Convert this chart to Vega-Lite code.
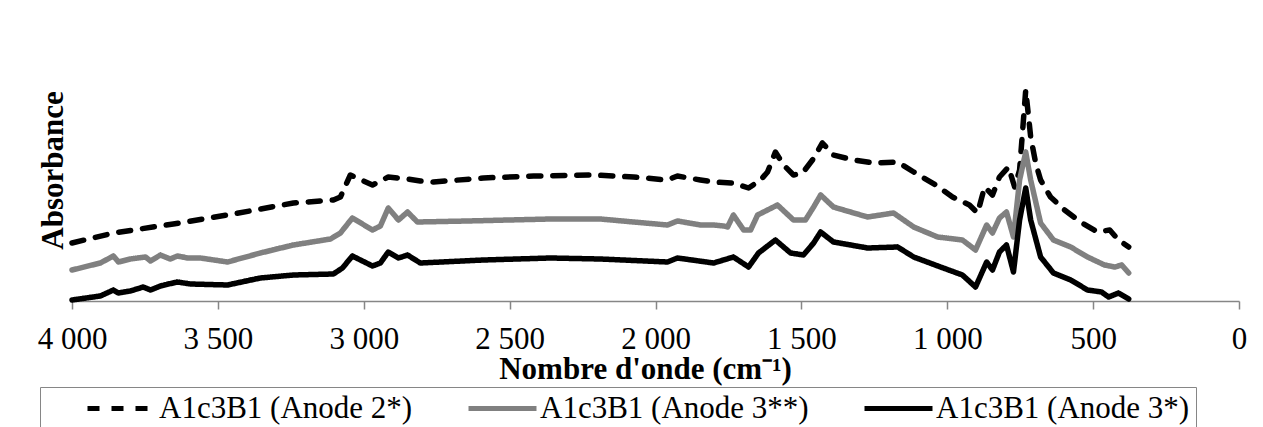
{
  "$schema": "https://vega.github.io/schema/vega-lite/v6.json",
  "autosize": {"type": "none"},
  "padding": {"left": 72, "top": 40, "right": 24, "bottom": 126},
  "width": 1167,
  "height": 261,
  "background": "white",
  "config": {
    "view": {"stroke": null},
    "font": "Liberation Serif"
  },
  "data": {
    "values": [
      {"wn": 4000, "a": 0.58, "s": "A1c3B1 (Anode 2*)"},
      {"wn": 3858, "a": 0.68, "s": "A1c3B1 (Anode 2*)"},
      {"wn": 3653, "a": 0.77, "s": "A1c3B1 (Anode 2*)"},
      {"wn": 3447, "a": 0.87, "s": "A1c3B1 (Anode 2*)"},
      {"wn": 3241, "a": 0.98, "s": "A1c3B1 (Anode 2*)"},
      {"wn": 3104, "a": 1.01, "s": "A1c3B1 (Anode 2*)"},
      {"wn": 3080, "a": 1.04, "s": "A1c3B1 (Anode 2*)"},
      {"wn": 3046, "a": 1.26, "s": "A1c3B1 (Anode 2*)"},
      {"wn": 2970, "a": 1.16, "s": "A1c3B1 (Anode 2*)"},
      {"wn": 2916, "a": 1.24, "s": "A1c3B1 (Anode 2*)"},
      {"wn": 2850, "a": 1.22, "s": "A1c3B1 (Anode 2*)"},
      {"wn": 2806, "a": 1.20, "s": "A1c3B1 (Anode 2*)"},
      {"wn": 2761, "a": 1.19, "s": "A1c3B1 (Anode 2*)"},
      {"wn": 2590, "a": 1.23, "s": "A1c3B1 (Anode 2*)"},
      {"wn": 2418, "a": 1.25, "s": "A1c3B1 (Anode 2*)"},
      {"wn": 2213, "a": 1.26, "s": "A1c3B1 (Anode 2*)"},
      {"wn": 2075, "a": 1.24, "s": "A1c3B1 (Anode 2*)"},
      {"wn": 1959, "a": 1.21, "s": "A1c3B1 (Anode 2*)"},
      {"wn": 1925, "a": 1.25, "s": "A1c3B1 (Anode 2*)"},
      {"wn": 1846, "a": 1.21, "s": "A1c3B1 (Anode 2*)"},
      {"wn": 1801, "a": 1.19, "s": "A1c3B1 (Anode 2*)"},
      {"wn": 1733, "a": 1.18, "s": "A1c3B1 (Anode 2*)"},
      {"wn": 1681, "a": 1.13, "s": "A1c3B1 (Anode 2*)"},
      {"wn": 1640, "a": 1.21, "s": "A1c3B1 (Anode 2*)"},
      {"wn": 1616, "a": 1.29, "s": "A1c3B1 (Anode 2*)"},
      {"wn": 1589, "a": 1.49, "s": "A1c3B1 (Anode 2*)"},
      {"wn": 1561, "a": 1.36, "s": "A1c3B1 (Anode 2*)"},
      {"wn": 1527, "a": 1.26, "s": "A1c3B1 (Anode 2*)"},
      {"wn": 1496, "a": 1.28, "s": "A1c3B1 (Anode 2*)"},
      {"wn": 1462, "a": 1.41, "s": "A1c3B1 (Anode 2*)"},
      {"wn": 1428, "a": 1.58, "s": "A1c3B1 (Anode 2*)"},
      {"wn": 1390, "a": 1.46, "s": "A1c3B1 (Anode 2*)"},
      {"wn": 1321, "a": 1.41, "s": "A1c3B1 (Anode 2*)"},
      {"wn": 1253, "a": 1.38, "s": "A1c3B1 (Anode 2*)"},
      {"wn": 1170, "a": 1.39, "s": "A1c3B1 (Anode 2*)"},
      {"wn": 1115, "a": 1.29, "s": "A1c3B1 (Anode 2*)"},
      {"wn": 1040, "a": 1.16, "s": "A1c3B1 (Anode 2*)"},
      {"wn": 982, "a": 1.04, "s": "A1c3B1 (Anode 2*)"},
      {"wn": 924, "a": 0.96, "s": "A1c3B1 (Anode 2*)"},
      {"wn": 896, "a": 0.88, "s": "A1c3B1 (Anode 2*)"},
      {"wn": 872, "a": 1.14, "s": "A1c3B1 (Anode 2*)"},
      {"wn": 845, "a": 1.06, "s": "A1c3B1 (Anode 2*)"},
      {"wn": 821, "a": 1.24, "s": "A1c3B1 (Anode 2*)"},
      {"wn": 790, "a": 1.34, "s": "A1c3B1 (Anode 2*)"},
      {"wn": 769, "a": 1.14, "s": "A1c3B1 (Anode 2*)"},
      {"wn": 752, "a": 1.31, "s": "A1c3B1 (Anode 2*)"},
      {"wn": 731, "a": 2.11, "s": "A1c3B1 (Anode 2*)"},
      {"wn": 714, "a": 1.64, "s": "A1c3B1 (Anode 2*)"},
      {"wn": 697, "a": 1.38, "s": "A1c3B1 (Anode 2*)"},
      {"wn": 680, "a": 1.21, "s": "A1c3B1 (Anode 2*)"},
      {"wn": 646, "a": 1.04, "s": "A1c3B1 (Anode 2*)"},
      {"wn": 598, "a": 0.91, "s": "A1c3B1 (Anode 2*)"},
      {"wn": 543, "a": 0.79, "s": "A1c3B1 (Anode 2*)"},
      {"wn": 485, "a": 0.69, "s": "A1c3B1 (Anode 2*)"},
      {"wn": 443, "a": 0.71, "s": "A1c3B1 (Anode 2*)"},
      {"wn": 413, "a": 0.61, "s": "A1c3B1 (Anode 2*)"},
      {"wn": 378, "a": 0.54, "s": "A1c3B1 (Anode 2*)"},

      {"wn": 4000, "a": 0.31, "s": "A1c3B1 (Anode 3**)"},
      {"wn": 3903, "a": 0.38, "s": "A1c3B1 (Anode 3**)"},
      {"wn": 3858, "a": 0.45, "s": "A1c3B1 (Anode 3**)"},
      {"wn": 3841, "a": 0.39, "s": "A1c3B1 (Anode 3**)"},
      {"wn": 3800, "a": 0.42, "s": "A1c3B1 (Anode 3**)"},
      {"wn": 3748, "a": 0.44, "s": "A1c3B1 (Anode 3**)"},
      {"wn": 3731, "a": 0.40, "s": "A1c3B1 (Anode 3**)"},
      {"wn": 3697, "a": 0.46, "s": "A1c3B1 (Anode 3**)"},
      {"wn": 3663, "a": 0.42, "s": "A1c3B1 (Anode 3**)"},
      {"wn": 3639, "a": 0.45, "s": "A1c3B1 (Anode 3**)"},
      {"wn": 3604, "a": 0.43, "s": "A1c3B1 (Anode 3**)"},
      {"wn": 3560, "a": 0.43, "s": "A1c3B1 (Anode 3**)"},
      {"wn": 3467, "a": 0.39, "s": "A1c3B1 (Anode 3**)"},
      {"wn": 3354, "a": 0.48, "s": "A1c3B1 (Anode 3**)"},
      {"wn": 3241, "a": 0.56, "s": "A1c3B1 (Anode 3**)"},
      {"wn": 3114, "a": 0.62, "s": "A1c3B1 (Anode 3**)"},
      {"wn": 3080, "a": 0.68, "s": "A1c3B1 (Anode 3**)"},
      {"wn": 3039, "a": 0.83, "s": "A1c3B1 (Anode 3**)"},
      {"wn": 2970, "a": 0.71, "s": "A1c3B1 (Anode 3**)"},
      {"wn": 2943, "a": 0.75, "s": "A1c3B1 (Anode 3**)"},
      {"wn": 2916, "a": 0.93, "s": "A1c3B1 (Anode 3**)"},
      {"wn": 2881, "a": 0.81, "s": "A1c3B1 (Anode 3**)"},
      {"wn": 2850, "a": 0.89, "s": "A1c3B1 (Anode 3**)"},
      {"wn": 2816, "a": 0.79, "s": "A1c3B1 (Anode 3**)"},
      {"wn": 2645, "a": 0.80, "s": "A1c3B1 (Anode 3**)"},
      {"wn": 2360, "a": 0.82, "s": "A1c3B1 (Anode 3**)"},
      {"wn": 2189, "a": 0.82, "s": "A1c3B1 (Anode 3**)"},
      {"wn": 2075, "a": 0.79, "s": "A1c3B1 (Anode 3**)"},
      {"wn": 1959, "a": 0.76, "s": "A1c3B1 (Anode 3**)"},
      {"wn": 1925, "a": 0.80, "s": "A1c3B1 (Anode 3**)"},
      {"wn": 1846, "a": 0.76, "s": "A1c3B1 (Anode 3**)"},
      {"wn": 1801, "a": 0.76, "s": "A1c3B1 (Anode 3**)"},
      {"wn": 1767, "a": 0.75, "s": "A1c3B1 (Anode 3**)"},
      {"wn": 1753, "a": 0.74, "s": "A1c3B1 (Anode 3**)"},
      {"wn": 1733, "a": 0.86, "s": "A1c3B1 (Anode 3**)"},
      {"wn": 1698, "a": 0.71, "s": "A1c3B1 (Anode 3**)"},
      {"wn": 1674, "a": 0.71, "s": "A1c3B1 (Anode 3**)"},
      {"wn": 1650, "a": 0.86, "s": "A1c3B1 (Anode 3**)"},
      {"wn": 1582, "a": 0.96, "s": "A1c3B1 (Anode 3**)"},
      {"wn": 1527, "a": 0.81, "s": "A1c3B1 (Anode 3**)"},
      {"wn": 1486, "a": 0.81, "s": "A1c3B1 (Anode 3**)"},
      {"wn": 1458, "a": 0.94, "s": "A1c3B1 (Anode 3**)"},
      {"wn": 1434, "a": 1.06, "s": "A1c3B1 (Anode 3**)"},
      {"wn": 1390, "a": 0.94, "s": "A1c3B1 (Anode 3**)"},
      {"wn": 1273, "a": 0.84, "s": "A1c3B1 (Anode 3**)"},
      {"wn": 1184, "a": 0.88, "s": "A1c3B1 (Anode 3**)"},
      {"wn": 1115, "a": 0.74, "s": "A1c3B1 (Anode 3**)"},
      {"wn": 1033, "a": 0.64, "s": "A1c3B1 (Anode 3**)"},
      {"wn": 948, "a": 0.61, "s": "A1c3B1 (Anode 3**)"},
      {"wn": 903, "a": 0.51, "s": "A1c3B1 (Anode 3**)"},
      {"wn": 865, "a": 0.76, "s": "A1c3B1 (Anode 3**)"},
      {"wn": 845, "a": 0.68, "s": "A1c3B1 (Anode 3**)"},
      {"wn": 821, "a": 0.83, "s": "A1c3B1 (Anode 3**)"},
      {"wn": 797, "a": 0.89, "s": "A1c3B1 (Anode 3**)"},
      {"wn": 773, "a": 0.64, "s": "A1c3B1 (Anode 3**)"},
      {"wn": 752, "a": 1.21, "s": "A1c3B1 (Anode 3**)"},
      {"wn": 731, "a": 1.49, "s": "A1c3B1 (Anode 3**)"},
      {"wn": 714, "a": 1.21, "s": "A1c3B1 (Anode 3**)"},
      {"wn": 680, "a": 0.78, "s": "A1c3B1 (Anode 3**)"},
      {"wn": 636, "a": 0.61, "s": "A1c3B1 (Anode 3**)"},
      {"wn": 577, "a": 0.54, "s": "A1c3B1 (Anode 3**)"},
      {"wn": 519, "a": 0.44, "s": "A1c3B1 (Anode 3**)"},
      {"wn": 461, "a": 0.36, "s": "A1c3B1 (Anode 3**)"},
      {"wn": 426, "a": 0.34, "s": "A1c3B1 (Anode 3**)"},
      {"wn": 402, "a": 0.36, "s": "A1c3B1 (Anode 3**)"},
      {"wn": 378, "a": 0.28, "s": "A1c3B1 (Anode 3**)"},

      {"wn": 4000, "a": 0.01, "s": "A1c3B1 (Anode 3*)"},
      {"wn": 3903, "a": 0.05, "s": "A1c3B1 (Anode 3*)"},
      {"wn": 3858, "a": 0.11, "s": "A1c3B1 (Anode 3*)"},
      {"wn": 3841, "a": 0.08, "s": "A1c3B1 (Anode 3*)"},
      {"wn": 3800, "a": 0.10, "s": "A1c3B1 (Anode 3*)"},
      {"wn": 3756, "a": 0.14, "s": "A1c3B1 (Anode 3*)"},
      {"wn": 3731, "a": 0.11, "s": "A1c3B1 (Anode 3*)"},
      {"wn": 3697, "a": 0.15, "s": "A1c3B1 (Anode 3*)"},
      {"wn": 3639, "a": 0.19, "s": "A1c3B1 (Anode 3*)"},
      {"wn": 3594, "a": 0.17, "s": "A1c3B1 (Anode 3*)"},
      {"wn": 3467, "a": 0.16, "s": "A1c3B1 (Anode 3*)"},
      {"wn": 3354, "a": 0.23, "s": "A1c3B1 (Anode 3*)"},
      {"wn": 3241, "a": 0.26, "s": "A1c3B1 (Anode 3*)"},
      {"wn": 3104, "a": 0.27, "s": "A1c3B1 (Anode 3*)"},
      {"wn": 3073, "a": 0.33, "s": "A1c3B1 (Anode 3*)"},
      {"wn": 3039, "a": 0.45, "s": "A1c3B1 (Anode 3*)"},
      {"wn": 2970, "a": 0.35, "s": "A1c3B1 (Anode 3*)"},
      {"wn": 2943, "a": 0.38, "s": "A1c3B1 (Anode 3*)"},
      {"wn": 2916, "a": 0.49, "s": "A1c3B1 (Anode 3*)"},
      {"wn": 2881, "a": 0.43, "s": "A1c3B1 (Anode 3*)"},
      {"wn": 2850, "a": 0.46, "s": "A1c3B1 (Anode 3*)"},
      {"wn": 2806, "a": 0.38, "s": "A1c3B1 (Anode 3*)"},
      {"wn": 2590, "a": 0.41, "s": "A1c3B1 (Anode 3*)"},
      {"wn": 2360, "a": 0.43, "s": "A1c3B1 (Anode 3*)"},
      {"wn": 2189, "a": 0.42, "s": "A1c3B1 (Anode 3*)"},
      {"wn": 1959, "a": 0.39, "s": "A1c3B1 (Anode 3*)"},
      {"wn": 1925, "a": 0.43, "s": "A1c3B1 (Anode 3*)"},
      {"wn": 1801, "a": 0.38, "s": "A1c3B1 (Anode 3*)"},
      {"wn": 1733, "a": 0.44, "s": "A1c3B1 (Anode 3*)"},
      {"wn": 1681, "a": 0.34, "s": "A1c3B1 (Anode 3*)"},
      {"wn": 1647, "a": 0.48, "s": "A1c3B1 (Anode 3*)"},
      {"wn": 1589, "a": 0.61, "s": "A1c3B1 (Anode 3*)"},
      {"wn": 1537, "a": 0.48, "s": "A1c3B1 (Anode 3*)"},
      {"wn": 1493, "a": 0.46, "s": "A1c3B1 (Anode 3*)"},
      {"wn": 1458, "a": 0.58, "s": "A1c3B1 (Anode 3*)"},
      {"wn": 1434, "a": 0.69, "s": "A1c3B1 (Anode 3*)"},
      {"wn": 1390, "a": 0.59, "s": "A1c3B1 (Anode 3*)"},
      {"wn": 1273, "a": 0.53, "s": "A1c3B1 (Anode 3*)"},
      {"wn": 1170, "a": 0.54, "s": "A1c3B1 (Anode 3*)"},
      {"wn": 1115, "a": 0.44, "s": "A1c3B1 (Anode 3*)"},
      {"wn": 1023, "a": 0.34, "s": "A1c3B1 (Anode 3*)"},
      {"wn": 948, "a": 0.26, "s": "A1c3B1 (Anode 3*)"},
      {"wn": 903, "a": 0.14, "s": "A1c3B1 (Anode 3*)"},
      {"wn": 865, "a": 0.39, "s": "A1c3B1 (Anode 3*)"},
      {"wn": 845, "a": 0.31, "s": "A1c3B1 (Anode 3*)"},
      {"wn": 821, "a": 0.49, "s": "A1c3B1 (Anode 3*)"},
      {"wn": 797, "a": 0.56, "s": "A1c3B1 (Anode 3*)"},
      {"wn": 773, "a": 0.29, "s": "A1c3B1 (Anode 3*)"},
      {"wn": 752, "a": 0.81, "s": "A1c3B1 (Anode 3*)"},
      {"wn": 731, "a": 1.13, "s": "A1c3B1 (Anode 3*)"},
      {"wn": 714, "a": 0.81, "s": "A1c3B1 (Anode 3*)"},
      {"wn": 680, "a": 0.44, "s": "A1c3B1 (Anode 3*)"},
      {"wn": 636, "a": 0.28, "s": "A1c3B1 (Anode 3*)"},
      {"wn": 577, "a": 0.21, "s": "A1c3B1 (Anode 3*)"},
      {"wn": 519, "a": 0.11, "s": "A1c3B1 (Anode 3*)"},
      {"wn": 471, "a": 0.09, "s": "A1c3B1 (Anode 3*)"},
      {"wn": 447, "a": 0.04, "s": "A1c3B1 (Anode 3*)"},
      {"wn": 413, "a": 0.08, "s": "A1c3B1 (Anode 3*)"},
      {"wn": 378, "a": 0.02, "s": "A1c3B1 (Anode 3*)"}
    ]
  },
  "mark": {"type": "line", "strokeWidth": 5.5, "strokeCap": "round", "strokeJoin": "round", "clip": false},
  "encoding": {
    "x": {
      "field": "wn", "type": "quantitative",
      "scale": {"domain": [0, 4000], "reverse": true, "nice": false, "zero": false},
      "axis": {
        "values": [4000, 3500, 3000, 2500, 2000, 1500, 1000, 500, 0],
        "labelExpr": "replace(format(datum.value, ','), ',', ' ')",
        "grid": false,
        "domainColor": "#868686", "domainWidth": 1.5,
        "tickColor": "#868686", "tickWidth": 1.5, "tickSize": 8,
        "labelFont": "Liberation Serif", "labelFontSize": 31, "labelColor": "black",
        "labelBaseline": "top", "labelPadding": 15, "labelFlush": false, "labelOverlap": false,
        "title": "Nombre d'onde (cm⁻¹)",
        "titleFont": "Liberation Serif", "titleFontSize": 31, "titleFontWeight": "bold", "titleColor": "black",
        "titleBaseline": "alphabetic", "titleAlign": "center", "titleX": 573, "titleY": 77
      }
    },
    "y": {
      "field": "a", "type": "quantitative",
      "scale": {"domain": [0, 2.61], "nice": false, "zero": true},
      "axis": {
        "domain": false, "ticks": false, "labels": false, "grid": false,
        "title": "Absorbance",
        "titleFont": "Liberation Serif", "titleFontSize": 31, "titleFontWeight": "bold", "titleColor": "black",
        "titleAngle": -90, "titleBaseline": "alphabetic", "titleAlign": "center", "titleX": -10, "titleY": 130
      }
    },
    "color": {
      "field": "s", "type": "nominal",
      "scale": {
        "domain": ["A1c3B1 (Anode 2*)", "A1c3B1 (Anode 3**)", "A1c3B1 (Anode 3*)"],
        "range": ["#000000", "#808080", "#000000"]
      },
      "legend": {
        "title": null,
        "orient": "none", "legendX": -32, "legendY": 347,
        "direction": "horizontal", "columns": 3,
        "symbolType": "stroke", "symbolSize": 4624, "symbolStrokeWidth": 5,
        "symbolOffset": 39, "clipHeight": 31,
        "labelFont": "Liberation Serif", "labelFontSize": 31, "labelColor": "black",
        "labelOffset": 1, "labelLimit": 400,
        "columnPadding": 14, "padding": 6,
        "strokeColor": "#868686"
      }
    },
    "strokeDash": {
      "field": "s", "type": "nominal",
      "scale": {
        "domain": ["A1c3B1 (Anode 2*)", "A1c3B1 (Anode 3**)", "A1c3B1 (Anode 3*)"],
        "range": [[12, 12], [1, 0], [1, 0]]
      }
    }
  }
}
